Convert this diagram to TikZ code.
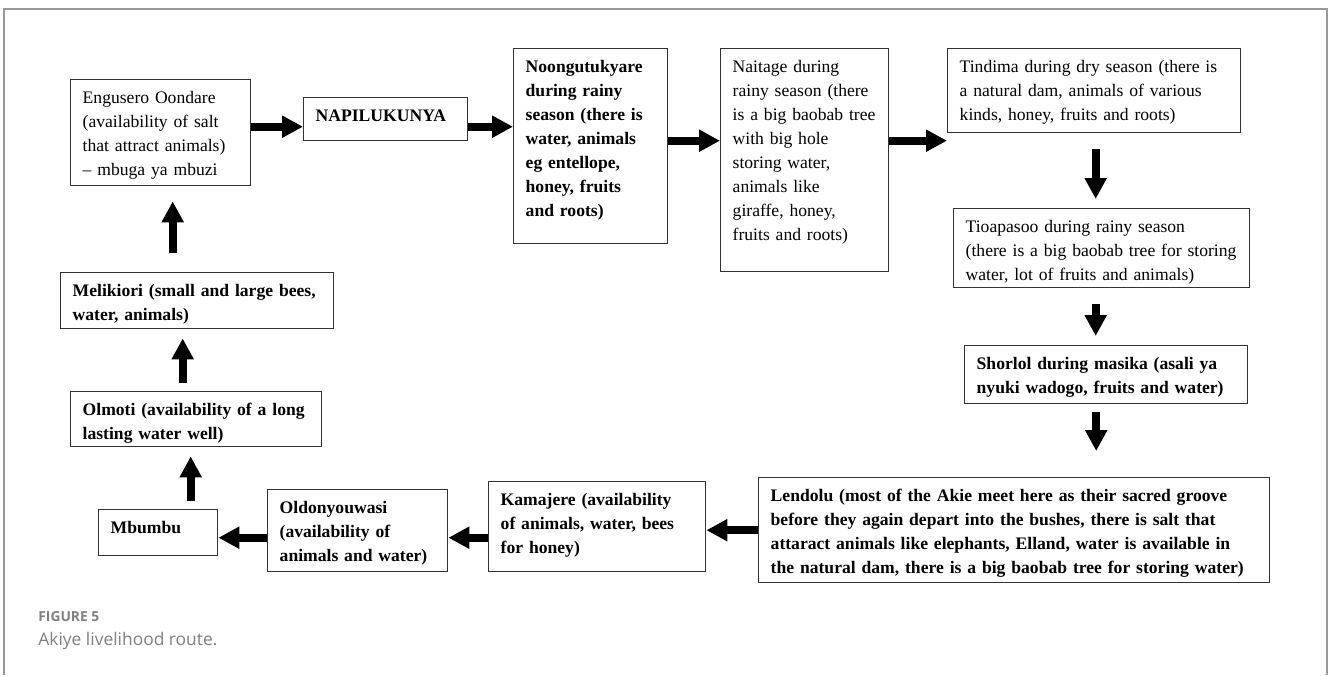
\documentclass[tikz,border=0pt]{standalone}
\usepackage{fontspec}
\setmainfont{Liberation Serif}
\newfontfamily\capfont{Open Sans}
\usetikzlibrary{arrows.meta}
\definecolor{rline}{HTML}{333333}
\definecolor{rframe}{HTML}{999999}
\definecolor{rcap}{HTML}{808080}
\tikzset{
  site/.style={rectangle, draw=rline, line width=0.7pt, anchor=north west, align=left,
               inner xsep=6pt, inner ysep=5pt, text height=7pt, font=\fontsize{8.8}{12}\selectfont},
  bsite/.style={site, font=\fontsize{8.8}{12}\selectfont\bfseries},
  fat/.style={-{Triangle[length=10.5pt, width=10.5pt]}, line width=4pt, draw=black},
  captext/.style={anchor=base west, inner sep=0pt, text=rcap}
}
\begin{document}
\begin{tikzpicture}[x=0.5pt, y=-0.5pt]
  \useasboundingbox (0,0) rectangle (1328,675);
  \draw[rframe, line width=0.6pt] (4,675) -- (4,9) -- (1327,9) -- (1327,675);

  % top row
  \node[site, text width=78pt, text depth=36pt] (eng) at (70,79)
    {Engusero Oondare\\(availability of salt\\that attract animals)\\-- mbuga ya mbuzi};
  \node[bsite, text width=70pt, text depth=4.5pt] (napi) at (303,97) {NAPILUKUNYA};
  \node[bsite, text width=65pt, text depth=80.5pt] (noon) at (513,48)
    {Noongutukyare\\during rainy\\season (there is\\water, animals\\eg entellope,\\honey, fruits\\and roots)};
  \node[site, text width=72pt, text depth=94.5pt] (nait) at (720,48)
    {Naitage during\\rainy season (there\\is a big baobab tree\\with big hole\\storing water,\\animals like\\giraffe, honey,\\fruits and roots)};
  \node[site, text width=134.5pt, text depth=25pt] (tin) at (947,48)
    {Tindima during dry season (there is\\a natural dam, animals of various\\kinds, honey, fruits and roots)};

  % right column
  \node[site, text width=136pt, text depth=22.5pt] (tio) at (953,208)
    {Tioapasoo during rainy season\\(there is a big baobab tree for storing\\water, lot of fruits and animals)};
  \node[bsite, text width=129.5pt, text depth=12pt] (sho) at (964,345)
    {Shorlol during masika (asali ya\\nyuki wadogo, fruits and water)};

  % bottom row
  \node[bsite, text width=243.5pt, text depth=35.5pt] (len) at (758,477)
    {Lendolu (most of the Akie meet here as their sacred groove\\before they again depart into the bushes, there is salt that\\attaract animals like elephants, Elland, water is available in\\the natural dam, there is a big baobab tree for storing water)};
  \node[bsite, text width=96.5pt, text depth=28pt] (kam) at (488,481)
    {Kamajere (availability\\of animals, water, bees\\for honey)};
  \node[bsite, text width=78pt, text depth=24pt] (old) at (267,489)
    {Oldonyouwasi\\(availability of\\animals and water)};
  \node[bsite, text width=47.5pt, text depth=6pt] (mbu) at (98,509) {Mbumbu};

  % left column
  \node[bsite, text width=113.5pt, text depth=10.5pt] (olm) at (70,391)
    {Olmoti (availability of a long\\lasting water well)};
  \node[bsite, text width=124.5pt, text depth=11pt] (mel) at (60,272)
    {Melikiori (small and large bees,\\water, animals)};

  % arrow starts of the vertical legs
  \coordinate (tinout) at ([xshift=0.75pt,yshift=-8pt]tin.south);
  \coordinate (tioout) at ([xshift=-3pt,yshift=-8pt]tio.south);
  \coordinate (shoout) at ([xshift=-5pt,yshift=-4pt]sho.south);
  \coordinate (mbuout) at ([xshift=16.25pt,yshift=4pt]mbu.north);
  \coordinate (olmout) at ([xshift=-6.75pt,yshift=4pt]olm.north);
  \coordinate (melout) at ([xshift=-12.25pt,yshift=9.5pt]mel.north);

  % route
  \draw[fat] ([yshift=3pt]eng.east) -- ([yshift=3pt]eng.east -| napi.west);
  \draw[fat] ([yshift=-3.75pt]napi.east) -- ([yshift=-3.75pt]napi.east -| noon.west);
  \draw[fat] ([yshift=2.75pt]noon.east) -- ([yshift=2.75pt]noon.east -| nait.west);
  \draw[fat] ([yshift=9.75pt]nait.east) -- ([yshift=9.75pt]nait.east -| tin.west);
  \draw[fat] (tinout) -- ([yshift=4.5pt]tio.north -| tinout);
  \draw[fat] (tioout) -- ([yshift=4.5pt]sho.north -| tioout);
  \draw[fat] (shoout) -- ([yshift=13pt]len.north -| shoout);
  \draw[fat] (len.west) -- (len.west -| kam.east);
  \draw[fat] ([yshift=-5.5pt]kam.west) -- ([yshift=-5.5pt]kam.west -| old.east);
  \draw[fat] ([yshift=-3.5pt]old.west) -- ([yshift=-3.5pt]old.west -| mbu.east);
  \draw[fat] (mbuout) -- ([yshift=-4.5pt]olm.south -| mbuout);
  \draw[fat] (olmout) -- ([yshift=-4.5pt]mel.south -| olmout);
  \draw[fat] (melout) -- ([yshift=-7.5pt]eng.south -| melout);

  % caption
  \node[captext, font=\capfont\bfseries\fontsize{6.9}{8}\selectfont] (fig) at (38,621) {FIGURE 5};
  \node[captext, font=\capfont\fontsize{8.7}{10}\selectfont] (title) at (38,645) {Akiye livelihood route.};
\end{tikzpicture}
\end{document}
